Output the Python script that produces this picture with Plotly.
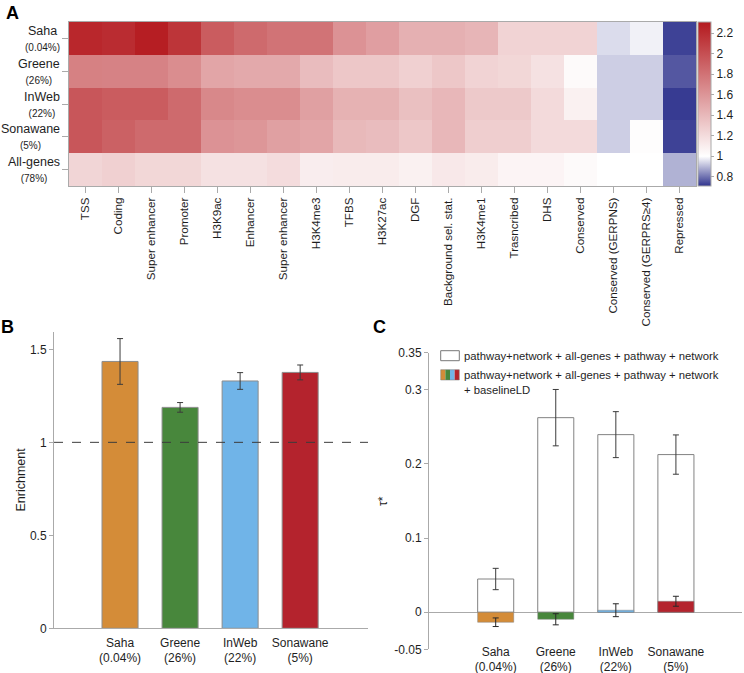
import plotly.graph_objects as go

# === data ===
features = ["TSS", "Coding", "Super enhancer", "Promoter", "H3K9ac", "Enhancer",
            "Super enhancer", "H3K4me3", "TFBS", "H3K27ac", "DGF",
            "Background sel. stat.", "H3K4me1", "Trasncribed", "DHS", "Conserved",
            "Conserved (GERPNS)", "Conserved (GERPRS≥4)", "Repressed"]
gene_sets = ["Saha", "Greene", "InWeb", "Sonawane", "All-genes"]
set_pct = ["0.04%", "26%", "22%", "5%", "78%"]

enr_saha = [2.23, 2.20, 2.28, 2.15, 1.93, 1.85, 1.80, 1.80, 1.62, 1.55, 1.45, 1.45,
            1.42, 1.25, 1.25, 1.25, 0.95, 0.98, 0.73]
enr_greene = [1.72, 1.71, 1.71, 1.65, 1.51, 1.49, 1.49, 1.38, 1.32, 1.32, 1.27, 1.32,
              1.25, 1.23, 1.17, 1.03, 0.93, 0.93, 0.76]
enr_inweb = [1.96, 1.93, 1.93, 1.85, 1.68, 1.65, 1.65, 1.54, 1.44, 1.44, 1.36, 1.41,
             1.31, 1.31, 1.21, 1.08, 0.93, 0.93, 0.72]
enr_sonawane = [1.96, 1.90, 1.85, 1.85, 1.62, 1.60, 1.54, 1.51, 1.40, 1.38, 1.32, 1.41,
                1.28, 1.28, 1.21, 1.21, 0.93, 1.01, 0.73]
enr_allgenes = [1.24, 1.27, 1.23, 1.23, 1.17, 1.17, 1.20, 1.10, 1.11, 1.11, 1.08, 1.13,
                1.11, 1.06, 1.06, 1.03, 1.00, 1.00, 0.89]

panel_sets = ["Saha", "Greene", "InWeb", "Sonawane"]
panel_pct = ["0.04%", "26%", "22%", "5%"]
bar_colors = ["#D48C38", "#48873C", "#70B4E8", "#B4232D"]

enrichment = [1.435, 1.188, 1.330, 1.376]
enrichment_se = [0.123, 0.026, 0.045, 0.040]

tau_joint = [0.0448, 0.2624, 0.2395, 0.2126]
tau_joint_se = [0.0144, 0.038, 0.031, 0.0265]
tau_ld = [-0.0135, -0.0095, 0.0027, 0.0148]
tau_ld_se = [0.0058, 0.0075, 0.0087, 0.0067]

W, H = 744, 673
FONT = "Arial, Liberation Sans, sans-serif"
GRID = "rgb(170,170,170)"
TXT = "rgb(30,30,30)"


def px(x):
    return x / W


def py(y):
    return 1 - y / H


z = [enr_saha, enr_greene, enr_inweb, enr_sonawane, enr_allgenes]
zmin, zmax = 0.71, 2.31
wpos = (1 - zmin) / (zmax - zmin)
colorscale = [[0, "rgb(48,52,142)"], [wpos, "rgb(255,255,255)"], [1, "rgb(180,25,30)"]]

bar_labels = [f"{g}<br>({p})" for g, p in zip(panel_sets, panel_pct)]

fig = go.Figure()

# === A: heatmap ===
fig.add_trace(go.Heatmap(
    z=z, x=list(range(len(features))), y=list(range(len(gene_sets))),
    zmin=zmin, zmax=zmax, colorscale=colorscale,
    colorbar=dict(x=px(698), xanchor="left", y=py(22), yanchor="top",
                  len=(186 - 22) / H, lenmode="fraction", thickness=13,
                  xpad=0, ypad=0, outlinewidth=1, outlinecolor=GRID,
                  tickvals=[0.8, 1, 1.2, 1.4, 1.6, 1.8, 2, 2.2],
                  ticks="outside", ticklen=3, tickcolor=GRID,
                  tickfont=dict(size=12, color=TXT, family=FONT)),
    xaxis="x", yaxis="y", hoverinfo="z"))

# === B: enrichment bars ===
fig.add_trace(go.Bar(
    x=bar_labels, y=enrichment, width=0.6,
    marker=dict(color=bar_colors, line=dict(color="rgb(140,140,140)", width=1)),
    error_y=dict(type="data", array=enrichment_se, color="rgb(60,60,60)",
                 thickness=1, width=3),
    xaxis="x2", yaxis="y2", showlegend=False))

# === C: tau* bars (overlay) ===
fig.add_trace(go.Bar(
    x=bar_labels, y=tau_joint, width=0.6,
    marker=dict(color="white", line=dict(color="rgb(130,130,130)", width=1)),
    error_y=dict(type="data", array=tau_joint_se, color="rgb(60,60,60)",
                 thickness=1, width=3),
    xaxis="x3", yaxis="y3", showlegend=False))
fig.add_trace(go.Bar(
    x=bar_labels, y=tau_ld, width=0.6,
    marker=dict(color=bar_colors, line=dict(color="rgb(130,130,130)", width=0.5)),
    error_y=dict(type="data", array=tau_ld_se, color="rgb(40,40,40)",
                 thickness=1, width=3),
    xaxis="x3", yaxis="y3", showlegend=False))

tickfont = dict(size=12, color=TXT, family=FONT)

fig.update_layout(
    width=W, height=H, margin=dict(l=0, r=0, t=0, b=0, autoexpand=False),
    paper_bgcolor="white", plot_bgcolor="white",
    font=dict(family=FONT, color=TXT),
    barmode="overlay", showlegend=False,
    xaxis=dict(domain=[px(69), px(696)], range=[-0.5, len(features) - 0.5],
               tickvals=list(range(len(features))), ticktext=features,
               tickangle=-90, ticks="outside", ticklen=6, tickcolor=GRID,
               showline=True, mirror=True, linecolor=GRID, showgrid=False,
               zeroline=False, tickfont=dict(size=11.6, color=TXT, family=FONT),
               anchor="y"),
    yaxis=dict(domain=[py(186), py(22)], range=[len(gene_sets) - 0.5, -0.5],
               tickvals=list(range(len(gene_sets))), ticktext=[""] * len(gene_sets),
               ticks="outside", ticklen=6, tickcolor=GRID,
               showline=True, mirror=True, linecolor=GRID, showgrid=False,
               zeroline=False, anchor="x"),
    xaxis2=dict(domain=[px(54), px(368)], range=[-1.1, 4.13], anchor="y2",
                showline=True, linecolor=GRID, ticks="", showgrid=False,
                zeroline=False, tickfont=tickfont, ticklabelstandoff=3),
    yaxis2=dict(domain=[py(628.3), py(331.7)], range=[0, 1.595], anchor="x2",
                tickvals=[0, 0.5, 1, 1.5], showline=True, linecolor=GRID,
                ticks="outside", ticklen=4, tickcolor=GRID, showgrid=False,
                zeroline=False, tickfont=tickfont),
    xaxis3=dict(domain=[px(429), px(742)], range=[-1.11, 4.1], anchor="free",
                position=py(642.5), showline=False, ticks="", showgrid=False,
                zeroline=False, tickfont=tickfont),
    yaxis3=dict(domain=[py(649.3), py(352.7)], range=[-0.05, 0.35], anchor="x3",
                tickvals=[-0.05, 0, 0.1, 0.2, 0.3, 0.35],
                ticktext=["-0.05", "0", "0.1", "0.2", "0.3", "0.35"],
                showline=True, linecolor=GRID, ticks="outside", ticklen=4,
                tickcolor=GRID, showgrid=False, zeroline=True,
                zerolinecolor=GRID, zerolinewidth=1, tickfont=tickfont),
)

# heatmap row labels, two centred lines each
for i, (g, p) in enumerate(zip(gene_sets, set_pct)):
    fig.add_annotation(x=px(62), y=i, xref="paper", yref="y", xanchor="right",
                       yanchor="middle", align="center", showarrow=False,
                       text=f"{g}<br><span style='font-size:10px'>({p})</span>",
                       font=dict(size=12.5, color=TXT, family=FONT))

# dashed line at enrichment = 1
fig.add_shape(type="line", xref="x2 domain", yref="y2", x0=0, x1=1, y0=1, y1=1,
              line=dict(color="rgb(60,60,60)", width=1, dash="dash"))

# legend of panel C (drawn by hand because of the multi-colour swatch)
sw_x0, sw_x1 = 440.7, 459.3
fig.add_shape(type="rect", xref="paper", yref="paper",
              x0=px(sw_x0), x1=px(sw_x1), y0=py(360.7), y1=py(350.7),
              line=dict(color="rgb(120,120,120)", width=1), fillcolor="white")
step = (sw_x1 - sw_x0) / len(bar_colors)
for i, c in enumerate(bar_colors):
    fig.add_shape(type="rect", xref="paper", yref="paper",
                  x0=px(sw_x0 + i * step), x1=px(sw_x0 + (i + 1) * step),
                  y0=py(380), y1=py(369.7), line=dict(width=0), fillcolor=c)
fig.add_shape(type="rect", xref="paper", yref="paper",
              x0=px(sw_x0), x1=px(sw_x1), y0=py(380), y1=py(369.7),
              line=dict(color="rgb(120,120,120)", width=0.5))

legend_font = dict(size=11.3, color=TXT, family=FONT)
fig.add_annotation(x=px(461.5), y=py(355.7), xref="paper", yref="paper",
                   xanchor="left", yanchor="middle", showarrow=False,
                   text="pathway+network + all-genes + pathway + network",
                   font=legend_font)
fig.add_annotation(x=px(461.5), y=py(367), xref="paper", yref="paper",
                   xanchor="left", yanchor="top", align="left", showarrow=False,
                   text="pathway+network + all-genes + pathway + network<br>+ baselineLD",
                   font=legend_font)

# axis titles
fig.add_annotation(x=px(20.5), y=py(480), xref="paper", yref="paper", showarrow=False,
                   xanchor="center", yanchor="middle",
                   text="Enrichment", textangle=-90,
                   font=dict(size=12.5, color=TXT, family=FONT))
fig.add_annotation(x=px(383), y=py(501), xref="paper", yref="paper", showarrow=False,
                   xanchor="center", yanchor="middle",
                   text="τ*", textangle=-90,
                   font=dict(size=12, color=TXT, family=FONT))

# panel letters
for letter, x, y in [("A", 12.5, 12.5), ("B", 7.5, 327), ("C", 379, 327)]:
    fig.add_annotation(x=px(x), y=py(y), xref="paper", yref="paper", showarrow=False,
                       xanchor="center", yanchor="middle",
                       text=f"<b>{letter}</b>",
                       font=dict(size=18, color="black", family=FONT))

# drop the default 8px body margin so the figure fills the window
fig.write_html("out.html", config={"displayModeBar": False},
               post_script="document.body.style.margin = '0';")
